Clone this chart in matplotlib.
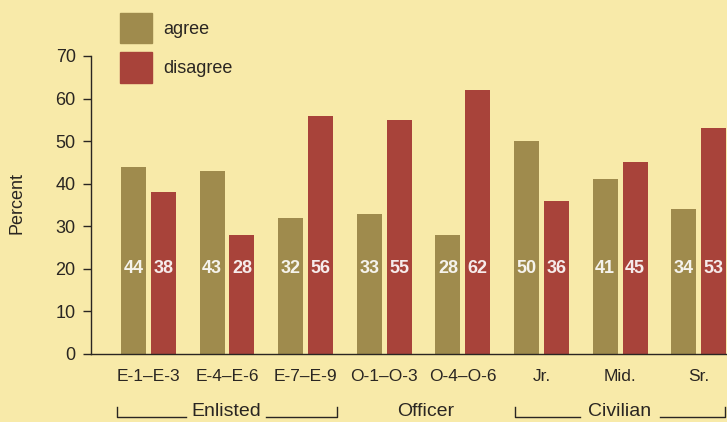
import matplotlib
matplotlib.use("Agg")
import matplotlib.pyplot as plt
import numpy as np
from matplotlib.lines import Line2D
from matplotlib.patches import Patch

plt.rcParams['font.family'] = ['Liberation Sans', 'DejaVu Sans']

# survey responses by grade
grades = ['E-1–E-3', 'E-4–E-6', 'E-7–E-9', 'O-1–O-3', 'O-4–O-6', 'Jr.', 'Mid.', 'Sr.']
agree = [44, 43, 32, 33, 28, 50, 41, 34]
disagree = [38, 28, 56, 55, 62, 36, 45, 53]
yticks = [0, 10, 20, 30, 40, 50, 60, 70]

bg = '#f8eaa9'
c_agree = '#9f8b4d'
c_dis = '#a8433a'
ink = '#2a2622'

W, H = 727, 422
fig = plt.figure(figsize=(W / 100, H / 100), dpi=100, facecolor=bg)
ax = fig.add_axes([91 / W, 68 / H, 636 / W, 298 / H], facecolor=bg)

x = np.arange(len(grades))
w = 0.318
off = 0.19
ax.bar(x - off, agree, width=w, color=c_agree, label='agree')
ax.bar(x + off, disagree, width=w, color=c_dis, label='disagree')

for xi, a, d in zip(x, agree, disagree):
    ax.text(xi - off, 20, str(a), ha='center', va='center', color='white',
            fontsize=13, fontweight='bold', alpha=0.9)
    ax.text(xi + off, 20, str(d), ha='center', va='center', color='white',
            fontsize=13, fontweight='bold', alpha=0.9)

ax.set_xlim(-0.73, 7.36)
ax.set_ylim(0, 70)
ax.set_yticks(yticks)
ax.set_yticklabels([str(t) for t in yticks], fontsize=13, color=ink)
ax.set_xticks(x)
ax.set_xticklabels(grades, fontsize=12.5, color=ink)
ax.tick_params(axis='x', length=0, pad=11)
ax.tick_params(axis='y', length=6, width=1, color=ink, pad=5)
for s in ['top', 'right']:
    ax.spines[s].set_visible(False)
for s in ['left', 'bottom']:
    ax.spines[s].set_color(ink)
    ax.spines[s].set_linewidth(1)

fig.text(17 / W, 1 - 203 / H, 'Percent', rotation=90, ha='center', va='center',
         fontsize=13, color=ink)

fig.legend(handles=[Patch(color=c_agree, label='agree'),
                    Patch(color=c_dis, label='disagree')],
           loc='upper left', bbox_to_anchor=(120 / W, 1 - 13 / H),
           borderpad=0, borderaxespad=0,
           frameon=False, fontsize=13, handlelength=1.78, handleheight=2.2,
           labelspacing=0.5, handletextpad=0.6, labelcolor=ink)


# group brackets under the category labels
def fx(px):
    return px / W


def fy(py):
    return 1 - py / H


y_lo, y_hi = fy(417), fy(407)
groups = [('Enlisted', 117, 337, 226, 40), ('Officer', None, None, 426, 0),
          ('Civilian', 515, 725, 620, 40)]
for name, l, r, c, half in groups:
    fig.text(fx(c), fy(420), name, ha='center', va='bottom', fontsize=14, color=ink)
    if l is None:
        continue
    fig.add_artist(Line2D([fx(l), fx(l), fx(c - half)], [y_hi, y_lo, y_lo],
                          color=ink, lw=1))
    fig.add_artist(Line2D([fx(c + half), fx(r), fx(r)], [y_lo, y_lo, y_hi],
                          color=ink, lw=1))

fig.savefig('out.png', dpi=100, facecolor=bg)
